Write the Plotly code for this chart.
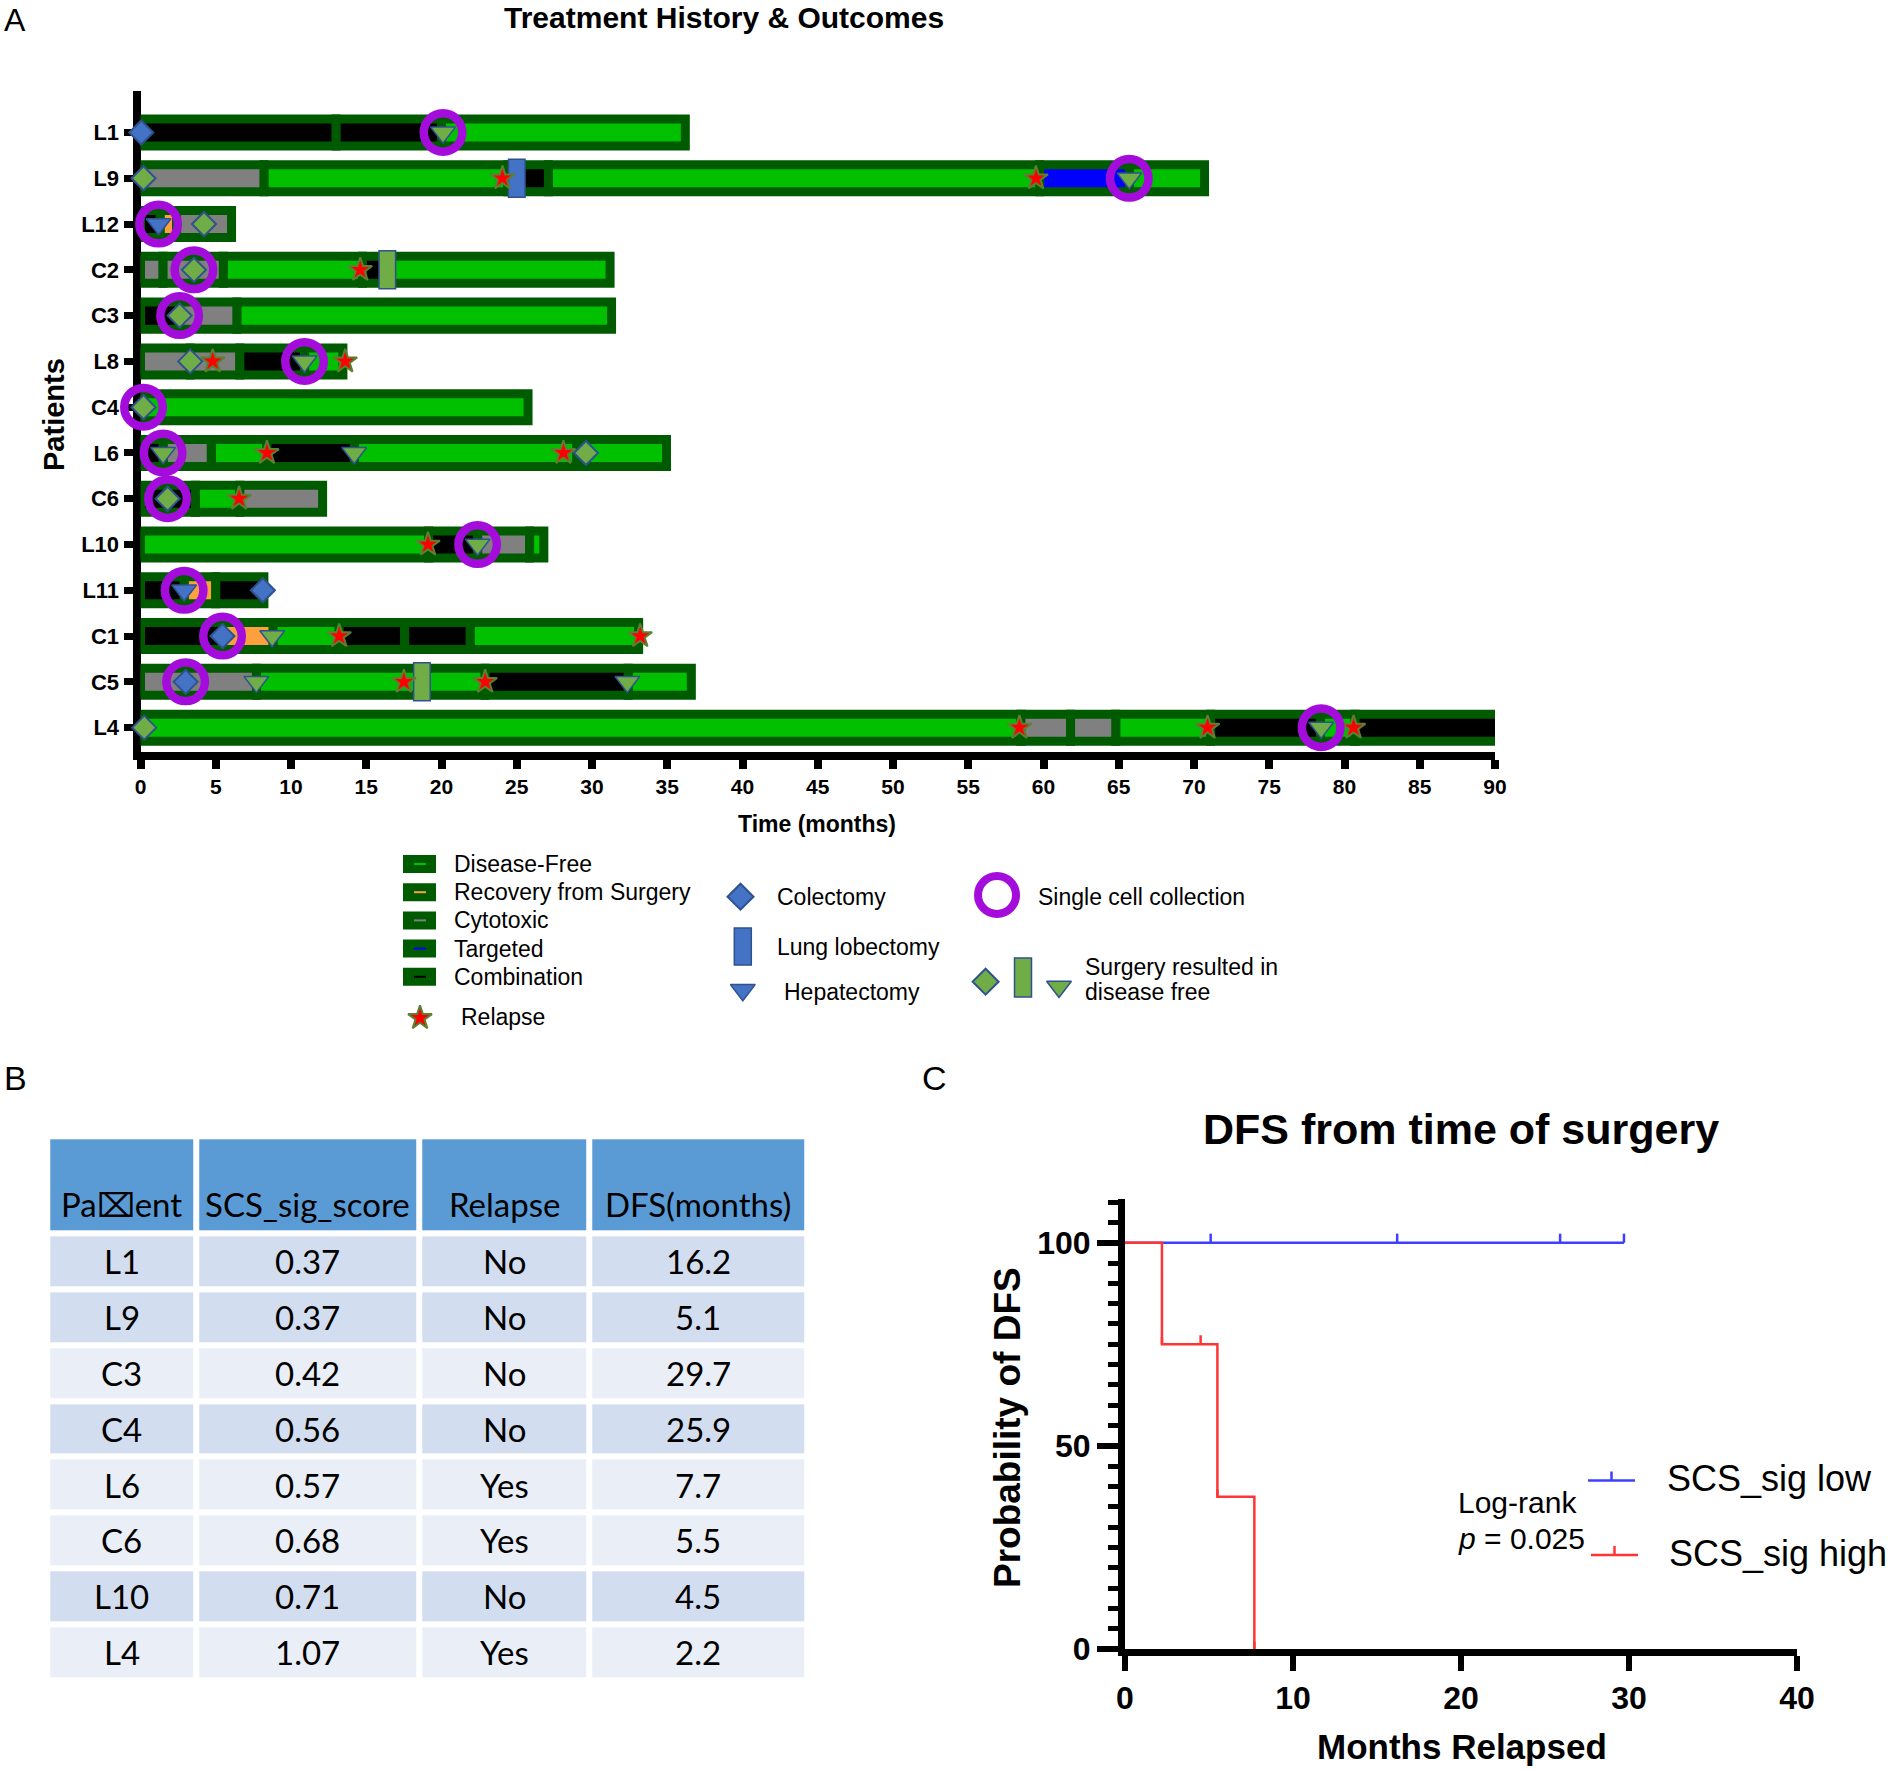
import plotly.graph_objects as go

W, H = 1889, 1770

# ======================= DATA =======================
patients = ["L1", "L9", "L12", "C2", "C3", "L8", "C4", "L6", "C6", "L10", "L11", "C1", "C5", "L4"]

# Treatment phases per patient: boundaries (months) and phase codes
# D = Disease-Free, R = Recovery from Surgery, X = Cytotoxic, T = Targeted, C = Combination
phase_bounds = {
    "L1":  [0, 13, 20, 36.2],
    "L9":  [0, 8.2, 24.4, 27.1, 59.75, 65.7, 70.7],
    "L12": [0, 1.3, 2.4, 6.05],
    "C2":  [0, 1.5, 5.5, 14.75, 16.4, 31.2],
    "C3":  [0, 2.6, 6.4, 31.3],
    "L8":  [0, 3.3, 6.6, 10.9, 13.45],
    "C4":  [0, 25.75],
    "L6":  [0, 1.5, 4.7, 8.4, 14.2, 29.0, 34.95],
    "C6":  [0, 3.65, 6.6, 12.1],
    "L10": [0, 19.15, 22.4, 25.85, 26.8],
    "L11": [0, 2.9, 5.0, 8.2],
    "C1":  [0, 5.45, 8.8, 13.2, 17.55, 21.9, 33.1],
    "C5":  [0, 7.7, 22.9, 32.4, 36.6],
    "L4":  [0, 58.5, 61.8, 64.8, 71.1, 78.4, 80.7, 95],
}
phase_codes = {
    "L1":  ["C", "C", "D"],
    "L9":  ["X", "D", "C", "D", "T", "D"],
    "L12": ["C", "R", "X"],
    "C2":  ["X", "X", "D", "C", "D"],
    "C3":  ["C", "X", "D"],
    "L8":  ["X", "X", "C", "D"],
    "C4":  ["D"],
    "L6":  ["C", "X", "D", "C", "D", "D"],
    "C6":  ["C", "D", "X"],
    "L10": ["D", "C", "X", "D"],
    "L11": ["C", "R", "C"],
    "C1":  ["C", "R", "D", "C", "C", "D"],
    "C5":  ["X", "D", "C", "D"],
    "L4":  ["D", "X", "X", "D", "C", "D", "C"],
}

# Events (patient, month)
colectomy = [("L1", 0.05), ("L6", -0.2), ("L11", 8.13), ("C1", 5.45), ("C5", 3.0)]
colectomy_df = [("L9", 0.2), ("L12", 4.22), ("C2", 3.55), ("C3", 2.6), ("L8", 3.3), ("C4", 0.2),
                ("L6", 29.6), ("C6", 1.8), ("L10", -0.1), ("L4", 0.25)]
hepatectomy = [("L12", 1.2), ("L11", 2.9)]
hepatectomy_df = [("L1", 20.1), ("L9", 65.7), ("L8", 10.9), ("L6", 1.5), ("L6", 14.2), ("L10", 22.4),
                  ("C1", 8.75), ("C5", 7.7), ("C5", 32.35), ("L4", 78.45)]
lobectomy = [("L9", 25.0)]
lobectomy_df = [("C2", 16.4), ("C5", 18.7)]
relapse = [("L9", 24.05), ("L9", 59.5), ("C2", 14.6), ("L8", 4.8), ("L8", 13.6), ("L6", 8.4), ("L6", 28.1),
           ("C6", 6.55), ("L10", 19.1), ("C1", 13.2), ("C1", 33.2), ("C5", 17.5), ("C5", 22.9),
           ("L4", 58.4), ("L4", 70.9), ("L4", 80.6)]
single_cell = [("L1", 20.1), ("L9", 65.7), ("L12", 1.2), ("C2", 3.55), ("C3", 2.6), ("L8", 10.9),
               ("C4", 0.2), ("L6", 1.5), ("C6", 1.8), ("L10", 22.4), ("L11", 2.9), ("C1", 5.45),
               ("C5", 3.0), ("L4", 78.45)]

x_ticks_A = list(range(0, 91, 5))

# Table (panel B)
table_header = ["Pa\u2327ent", "SCS_sig_score", "Relapse", "DFS(months)"]
tbl_patient = ["L1", "L9", "C3", "C4", "L6", "C6", "L10", "L4"]
tbl_score = ["0.37", "0.37", "0.42", "0.56", "0.57", "0.68", "0.71", "1.07"]
tbl_relapse = ["No", "No", "No", "No", "Yes", "Yes", "No", "Yes"]
tbl_dfs = ["16.2", "5.1", "29.7", "25.9", "7.7", "5.5", "4.5", "2.2"]
sig_group = ["low", "low", "low", "low", "high", "high", "high", "high"]

# ======================= STYLE =======================
ARIAL = "Arial, Liberation Sans, sans-serif"
TABLEFONT = "Lato, Open Sans, sans-serif"
code_names = {"D": "Disease-Free", "R": "Recovery from Surgery", "X": "Cytotoxic",
              "T": "Targeted", "C": "Combination"}
code_colors = {"D": "#00C000", "R": "#FFA040", "X": "#808080", "T": "#0000FF", "C": "#000000"}
BORDER = "#005A00"
BLUE_F, GREEN_F, EDGE = "#4472C4", "#70AD47", "#2F528F"
PURPLE = "#A40CDC"
STAR_EDGE = "#5B7F33"
RECT_W = 1.1  # months


def px_x(p):
    return p / W


def px_y(p):
    return 1 - p / H


row_of = {p: i for i, p in enumerate(patients)}

fig = go.Figure()

# ---------- Panel A: swimmer bars ----------
for code in ["D", "R", "X", "T", "C"]:
    ys, xs, bases = [], [], []
    for p in patients:
        b = phase_bounds[p]
        for k, c in enumerate(phase_codes[p]):
            if c == code:
                ys.append(row_of[p])
                bases.append(b[k])
                xs.append(b[k + 1] - b[k])
    fig.add_trace(go.Bar(y=ys, x=xs, base=bases, orientation="h", width=0.59,
                         marker=dict(color=code_colors[code], line=dict(color=BORDER, width=9)),
                         xaxis="x", yaxis="y", name=code_names[code], hoverinfo="skip"))

# lung lobectomy rectangles
for pts, col in [(lobectomy, BLUE_F), (lobectomy_df, GREEN_F)]:
    fig.add_trace(go.Bar(y=[row_of[p] for p, _ in pts], x=[RECT_W] * len(pts),
                         base=[t - RECT_W / 2 for _, t in pts], orientation="h", width=0.83,
                         marker=dict(color=col, line=dict(color=EDGE, width=1.5)),
                         xaxis="x5", yaxis="y5", hoverinfo="skip"))


def add_marks(pts, symbol, size, color, lcolor, lwidth, xa="x5", ya="y5"):
    fig.add_trace(go.Scatter(x=[t for _, t in pts], y=[row_of[p] for p, _ in pts], mode="markers",
                             marker=dict(symbol=symbol, size=size, color=color,
                                         line=dict(color=lcolor, width=lwidth)),
                             xaxis=xa, yaxis=ya, cliponaxis=False, hoverinfo="skip"))


add_marks(colectomy, "diamond", 18.5, BLUE_F, EDGE, 2)
add_marks(colectomy_df, "diamond", 18.5, GREEN_F, EDGE, 2)
add_marks(hepatectomy, "triangle-down", 21.5, BLUE_F, EDGE, 1.5)
add_marks(hepatectomy_df, "triangle-down", 21.5, GREEN_F, EDGE, 1.5)
add_marks(relapse, "star", 18, "#FF0000", STAR_EDGE, 2)
fig.add_trace(go.Scatter(x=[t for _, t in single_cell], y=[row_of[p] for p, _ in single_cell],
                         mode="markers", marker=dict(symbol="circle-open", size=38.5, color=PURPLE,
                                                     line=dict(width=8.5)),
                         xaxis="x5", yaxis="y5", cliponaxis=False, hoverinfo="skip"))

# ---------- Panel A legend (own pixel-unit axes) ----------
shapes = []
annotations = []
LEG_FS = 23
leg_codes = ["D", "R", "X", "T", "C"]
for i, c in enumerate(leg_codes):
    yc = 864 + i * 28.2
    shapes.append(dict(type="rect", xref="x2", yref="y2", x0=403, x1=436, y0=yc - 9, y1=yc + 9,
                       fillcolor=BORDER, line=dict(width=0), layer="above"))
    shapes.append(dict(type="line", xref="x2", yref="y2", x0=414, x1=426, y0=yc, y1=yc,
                       line=dict(color=code_colors[c], width=2), layer="above"))
    annotations.append(dict(x=452, y=yc, xref="x2", yref="y2", text=code_names[c], showarrow=False,
                            xanchor="left", yanchor="middle", font=dict(family=ARIAL, size=LEG_FS, color="black")))
leg_marks = [
    (420, 1018, "star", 18, "#FF0000", STAR_EDGE, 2),
    (740.5, 896.7, "diamond", 20, BLUE_F, EDGE, 2),
    (742.8, 990, "triangle-down", 21.5, BLUE_F, EDGE, 1.5),
    (985.6, 981.7, "diamond", 20, GREEN_F, EDGE, 2),
    (1059, 986.7, "triangle-down", 21.5, GREEN_F, EDGE, 1.5),
]
for x, y, sym, sz, fc, lc, lw in leg_marks:
    fig.add_trace(go.Scatter(x=[x], y=[y], mode="markers", xaxis="x2", yaxis="y2", cliponaxis=False,
                             marker=dict(symbol=sym, size=sz, color=fc, line=dict(color=lc, width=lw)),
                             hoverinfo="skip"))
fig.add_trace(go.Scatter(x=[997], y=[895], mode="markers", xaxis="x2", yaxis="y2", cliponaxis=False,
                         marker=dict(symbol="circle-open", size=38, color=PURPLE, line=dict(width=8)),
                         hoverinfo="skip"))
for x0, x1, y0, y1, fc in [(734.3, 751.3, 928, 965, BLUE_F), (1014.5, 1031.5, 958, 997, GREEN_F)]:
    shapes.append(dict(type="rect", xref="x2", yref="y2", x0=x0, x1=x1, y0=y0, y1=y1,
                       fillcolor=fc, line=dict(color=EDGE, width=1.5), layer="above"))
for x, y, txt in [(458.6, 1017, "Relapse"), (775, 896.7, "Colectomy"), (775, 946.7, "Lung lobectomy"),
                  (782, 991.7, "Hepatectomy"), (1036, 896.7, "Single cell collection"),
                  (1083, 966.7, "Surgery resulted in"), (1083, 991.7, "disease free")]:
    annotations.append(dict(x=x, y=y, xref="x2", yref="y2", text=txt, showarrow=False, xanchor="left",
                            yanchor="middle", font=dict(family=ARIAL, size=LEG_FS, color="black")))

# ---------- Panel B: table as heatmap ----------
col_w = [148.6, 223.3, 170.0, 218.0]
head_h, row_h = 97.2, 55.8
TX0, TY0 = 47.2, 1136.3
x_edges = [TX0]
for w in col_w:
    x_edges.append(x_edges[-1] + w)
y_edges = [TY0, TY0 + head_h]
for _ in tbl_patient:
    y_edges.append(y_edges[-1] + row_h)
row_band = [1, 1, 2, 1, 2, 2, 1, 2]
z = [[0] * 4] + [[b] * 4 for b in row_band]
fig.add_trace(go.Heatmap(x=x_edges, y=y_edges, z=z, xgap=6, ygap=6, zmin=0, zmax=2, showscale=False,
                         colorscale=[[0, "#5B9BD5"], [0.5, "#D2DEEF"], [1, "#E9EEF7"]],
                         xaxis="x4", yaxis="y4", hoverinfo="skip"))
col_c = [(x_edges[i] + x_edges[i + 1]) / 2 for i in range(4)]
TBL_FS = 33
for j, h in enumerate(table_header):
    annotations.append(dict(x=col_c[j], y=y_edges[1] - 30, xref="x4", yref="y4", text=h, showarrow=False,
                            font=dict(family=TABLEFONT, size=TBL_FS, color="black")))
for i in range(len(tbl_patient)):
    yc = (y_edges[i + 1] + y_edges[i + 2]) / 2
    for j, v in enumerate([tbl_patient[i], tbl_score[i], tbl_relapse[i], tbl_dfs[i]]):
        annotations.append(dict(x=col_c[j], y=yc, xref="x4", yref="y4", text=v, showarrow=False,
                                font=dict(family=TABLEFONT, size=TBL_FS, color="black")))


# ---------- Panel C: Kaplan-Meier ----------
def km_curve(times, events):
    order = sorted(range(len(times)), key=lambda i: times[i])
    n = len(times)
    s = 100.0
    xs, ys, cx, cy, ex, ey = [0], [100.0], [], [], [], []
    for i in order:
        if events[i]:
            s = s * (1 - 1 / n)
            xs.append(times[i]); ys.append(s)
            ex.append(times[i]); ey.append(s)
        else:
            cx.append(times[i]); cy.append(s)
        n -= 1
    if xs[-1] < max(times):
        xs.append(max(times)); ys.append(s)
    return xs, ys, cx, cy, ex, ey


dfs_num = [float(v) for v in tbl_dfs]
rel_evt = [r == "Yes" for r in tbl_relapse]
km_colors = {"low": "#3F3FFF", "high": "#FF3535"}
for g in ["low", "high"]:
    idx = [i for i, gg in enumerate(sig_group) if gg == g]
    xs, ys, cx, cy, ex, ey = km_curve([dfs_num[i] for i in idx], [rel_evt[i] for i in idx])
    col = km_colors[g]
    fig.add_trace(go.Scatter(x=xs, y=ys, mode="lines", line=dict(color=col, width=2.5, shape="hv"),
                             xaxis="x3", yaxis="y3", hoverinfo="skip", cliponaxis=False))
    if cx:
        fig.add_trace(go.Scatter(x=cx, y=[v + 1.1 for v in cy], mode="markers", xaxis="x3", yaxis="y3",
                                 marker=dict(symbol="line-ns", size=6.5, line=dict(color=col, width=2.5)),
                                 hoverinfo="skip", cliponaxis=False))
    if ex:
        fig.add_trace(go.Scatter(x=ex, y=[v + 0.9 for v in ey], mode="markers", xaxis="x3", yaxis="y3",
                                 marker=dict(symbol="line-ns", size=5, line=dict(color=col, width=2.5)),
                                 hoverinfo="skip", cliponaxis=False))

# KM legend (decoration)
for (xa, xb, yy, col) in [(1588, 1635, 1480.5, km_colors["low"]), (1591, 1638, 1555, km_colors["high"])]:
    shapes.append(dict(type="line", xref="paper", yref="paper", x0=px_x(xa), x1=px_x(xb), y0=px_y(yy),
                       y1=px_y(yy), line=dict(color=col, width=2.5)))
    xm = (xa + xb) / 2
    shapes.append(dict(type="line", xref="paper", yref="paper", x0=px_x(xm), x1=px_x(xm), y0=px_y(yy),
                       y1=px_y(yy - 9), line=dict(color=col, width=2.5)))
for x, y, txt in [(1665, 1478, "SCS_sig low"), (1667, 1553, "SCS_sig high")]:
    annotations.append(dict(x=px_x(x), y=px_y(y), xref="paper", yref="paper", text=txt, showarrow=False,
                            xanchor="left", yanchor="middle", font=dict(family=ARIAL, size=36, color="black")))
for x, y, txt in [(1456, 1502.5, "Log-rank"), (1456, 1538, "<i>p</i> = 0.025")]:
    annotations.append(dict(x=px_x(x), y=px_y(y), xref="paper", yref="paper", text=txt, showarrow=False,
                            xanchor="left", yanchor="middle", font=dict(family=ARIAL, size=30, color="black")))


# ---------- Titles / labels ----------
def ann(x, y, txt, size, bold=False, angle=0, xanchor="center"):
    annotations.append(dict(x=px_x(x), y=px_y(y), xref="paper", yref="paper", text=txt, showarrow=False,
                            textangle=angle, xanchor=xanchor, yanchor="middle",
                            font=dict(family=ARIAL, size=size, color="black",
                                      weight="bold" if bold else "normal")))


ann(15, 20, "A", 32)
ann(15, 1078, "B", 34)
ann(934, 1078, "C", 34)
ann(724, 18, "Treatment History & Outcomes", 30, bold=True)
ann(817, 824, "Time (months)", 23, bold=True)
ann(54, 415, "Patients", 29, bold=True, angle=-90)
ann(1461, 1129, "DFS from time of surgery", 43, bold=True)
ann(1462, 1746, "Months Relapsed", 35, bold=True)
ann(1007, 1428, "Probability of DFS", 37, bold=True, angle=-90)

# ---------- Axes ----------
A_left, A_right, A_top, A_bot = 140.5, 1495, 91, 752
row_px0, row_pitch = 132.5, 45.78
yA_range = [(A_bot - row_px0) / row_pitch, -(row_px0 - A_top) / row_pitch]
common_off = dict(visible=False, showgrid=False, zeroline=False, fixedrange=True)

fig.update_layout(
    width=W, height=H, margin=dict(l=0, r=0, t=0, b=0, autoexpand=False),
    paper_bgcolor="white", plot_bgcolor="rgba(0,0,0,0)", showlegend=False, barmode="overlay",
    font=dict(family=ARIAL, color="black"),
    xaxis=dict(domain=[px_x(A_left), px_x(A_right)], range=[0, 90], tickvals=x_ticks_A,
               showline=True, linewidth=8, linecolor="black", ticks="outside", ticklen=9, tickwidth=8,
               tickcolor="black", tickfont=dict(family=ARIAL, size=21, weight="bold"),
               showgrid=False, zeroline=False, anchor="y", fixedrange=True, layer="below traces"),
    yaxis=dict(domain=[px_y(A_bot), px_y(A_top)], range=yA_range, tickvals=list(range(len(patients))),
               ticktext=patients, showline=True, linewidth=8, linecolor="black", ticks="outside",
               ticklen=9, tickwidth=7, tickcolor="black", tickfont=dict(family=ARIAL, size=22, weight="bold"),
               showgrid=False, zeroline=False, anchor="x", fixedrange=True, layer="below traces"),
    xaxis5=dict(overlaying="x", range=[0, 90], anchor="y5", **common_off),
    yaxis5=dict(overlaying="y", range=yA_range, anchor="x5", **common_off),
    xaxis2=dict(domain=[px_x(380), px_x(1300)], range=[380, 1300], anchor="y2", **common_off),
    yaxis2=dict(domain=[px_y(1040), px_y(840)], range=[1040, 840], anchor="x2", **common_off),
    xaxis4=dict(domain=[px_x(x_edges[0]), px_x(x_edges[-1])], range=[x_edges[0], x_edges[-1]],
                anchor="y4", **common_off),
    yaxis4=dict(domain=[px_y(y_edges[-1]), px_y(y_edges[0])], range=[y_edges[-1], y_edges[0]],
                anchor="x4", **common_off),
    xaxis3=dict(domain=[px_x(1125), px_x(1797)], range=[0, 40], dtick=10, tick0=0, showline=True,
                linewidth=7, linecolor="black", ticks="outside", ticklen=15, tickwidth=6, tickcolor="black",
                tickfont=dict(family=ARIAL, size=32, weight="bold"), showgrid=False, zeroline=False,
                anchor="y3", fixedrange=True),
    yaxis3=dict(domain=[px_y(1649), px_y(1198.8)], range=[0, 110.8], tickvals=[0, 50, 100],
                showline=True, linewidth=7, linecolor="black", ticks="outside", ticklen=21, tickwidth=6,
                tickcolor="black", tickfont=dict(family=ARIAL, size=32, weight="bold"),
                minor=dict(tickvals=list(range(0, 111, 5)), ticks="outside", ticklen=10, tickwidth=5,
                           tickcolor="black", showgrid=False),
                showgrid=False, zeroline=False, anchor="x3", fixedrange=True),
    shapes=shapes, annotations=annotations,
)

fig.write_html("out.html", config={"displayModeBar": False},
               post_script="document.body.style.margin='0px';document.body.style.overflow='hidden';")
